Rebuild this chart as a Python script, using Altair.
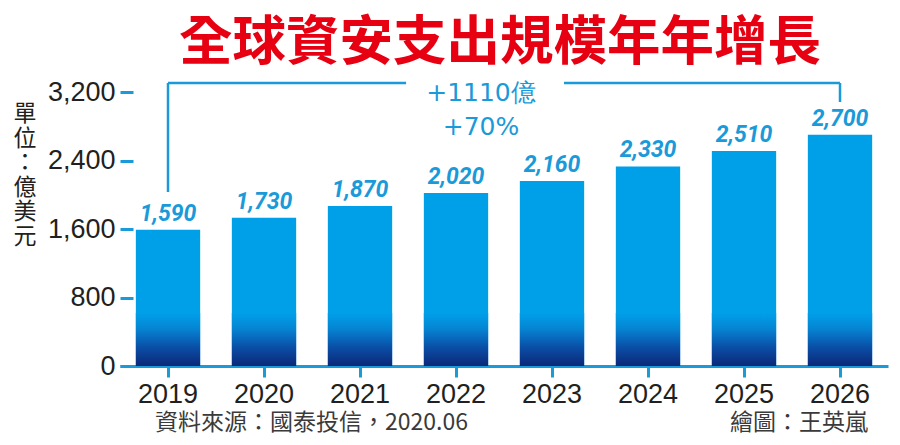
import altair as alt
import pandas as pd

# ---- data ----
years = ["2019", "2020", "2021", "2022", "2023", "2024", "2025", "2026"]
values = [1590, 1730, 1870, 2020, 2160, 2330, 2510, 2700]
y_ticks = [0, 800, 1600, 2400, 3200]

# bracket annotation (x in category-index units, y in 億美元)
seg_x = [0, 0, 4.125, 7]
seg_x2 = [0, 2.48, 7, 7]
seg_y = [2032, 3305, 3305, 3083]
seg_y2 = [3305, 3305, 3305, 3305]
ann_text = ["+1110億", "+70%"]
ann_x = [3.26, 3.26]
ann_y = [3189, 2791]
grad_top = 620  # height of dark gradient base of every bar

title_text = "全球資安支出規模年年增長"
unit_text = ["單", "位", "：", "億", "美", "元"]
source_text = "資料來源：國泰投信，2020.06"
credit_text = "繪圖：王英嵐"

BLUE = "#00a0e9"
LINE_BLUE = "#1a9ad9"
DARK = "#231f20"
CJK = "Noto Sans CJK TC"

df = pd.DataFrame({"year": years, "value": values})
df["base"] = 0
df["gtop"] = [min(v, grad_top) for v in values]

seg_df = pd.DataFrame({"x": seg_x, "x2": seg_x2, "y": seg_y, "y2": seg_y2})
ann_df = pd.DataFrame({"t": ann_text, "x": ann_x, "y": ann_y})

xband = alt.X(
    "year:N",
    sort=years,
    scale=alt.Scale(paddingInner=0.33, paddingOuter=0.165),
    axis=alt.Axis(
        title=None,
        labelAngle=0,
        labelFont="Liberation Sans",
        labelFontSize=27,
        labelColor=DARK,
        labelPadding=4,
        domainColor=LINE_BLUE,
        domainWidth=3,
        tickColor=LINE_BLUE,
        tickWidth=3,
        tickSize=11,
        grid=False,
    ),
)
yscale = alt.Scale(domain=[0, 3200], nice=False, zero=True)
yax = alt.Axis(
    title=None,
    values=y_ticks,
    format=",d",
    labelFont="Liberation Sans",
    labelFontSize=27,
    labelColor=DARK,
    labelPadding=5,
    domain=False,
    tickColor=LINE_BLUE,
    tickWidth=3,
    tickSize=13,
    offset=-13,
    grid=False,
)

bars = alt.Chart(df).mark_bar(color=BLUE).encode(
    x=xband,
    y=alt.Y("value:Q", scale=yscale, axis=yax),
)

grad = alt.Chart(df).mark_bar(
    color=alt.Gradient(
        gradient="linear",
        stops=[
            alt.GradientStop(color=BLUE, offset=0),
            alt.GradientStop(color="#0584d2", offset=0.3),
            alt.GradientStop(color="#0a4ea6", offset=0.65),
            alt.GradientStop(color="#0b2878", offset=1),
        ],
        x1=0, x2=0, y1=0, y2=1,
    )
).encode(
    x=alt.X("year:N", sort=years),
    y=alt.Y("gtop:Q", scale=yscale, axis=yax),
    y2="base:Q",
)

labels = alt.Chart(df).mark_text(
    font="Roboto",
    fontSize=23,
    fontStyle="italic",
    fontWeight="bold",
    color=LINE_BLUE,
    baseline="alphabetic",
    dy=-9,
).encode(
    x=alt.X("year:N", sort=years),
    y=alt.Y("value:Q", scale=yscale, axis=yax),
    text=alt.Text("value:Q", format=",d"),
)

bar_layer = alt.layer(bars, grad, labels)

xlin = alt.Scale(domain=[-0.5, 7.5], nice=False, zero=False)

rules = alt.Chart(seg_df).mark_rule(color=LINE_BLUE, strokeWidth=2.5).encode(
    x=alt.X("x:Q", scale=xlin, axis=None),
    x2="x2:Q",
    y=alt.Y("y:Q", scale=yscale, axis=yax),
    y2="y2:Q",
)

ann = alt.Chart(ann_df).mark_text(
    font="DejaVu Sans", fontSize=25, color=LINE_BLUE, baseline="middle"
).encode(
    x=alt.X("x:Q", scale=xlin, axis=None),
    y=alt.Y("y:Q", scale=yscale, axis=yax),
    text="t:N",
)

ann_layer = alt.layer(rules, ann)

one = pd.DataFrame({"k": [0]})

title = alt.Chart(one).mark_text(
    font=CJK, fontSize=53.5, fontWeight="bold", color="#e60012",
    align="center", baseline="alphabetic",
).encode(x=alt.value(380), y=alt.value(-32), text=alt.value(title_text))

unit = alt.Chart(one).mark_text(
    font=CJK, fontSize=23, color=DARK, align="center", baseline="top", lineHeight=24.5,
).encode(x=alt.value(-95), y=alt.value(11), text=alt.value(unit_text))

source = alt.Chart(one).mark_text(
    font=CJK, fontSize=23, color="#3a3a3a", align="left", baseline="alphabetic",
).encode(x=alt.value(35), y=alt.value(338), text=alt.value(source_text))

credit = alt.Chart(one).mark_text(
    font=CJK, fontSize=23, color="#3a3a3a", align="right", baseline="alphabetic",
).encode(x=alt.value(748), y=alt.value(338), text=alt.value(credit_text))

chart = (
    alt.layer(bar_layer, ann_layer, title, unit, source, credit)
    .resolve_scale(x="independent")
    .properties(
        width=768,
        height=274,
        padding={"left": 112, "top": 84, "right": 4, "bottom": 71},
        autosize=alt.AutoSizeParams(type="none"),
        background="white",
    )
    .configure_view(stroke=None)
)

chart.save("out.html", embed_options={"renderer": "svg", "actions": False})
